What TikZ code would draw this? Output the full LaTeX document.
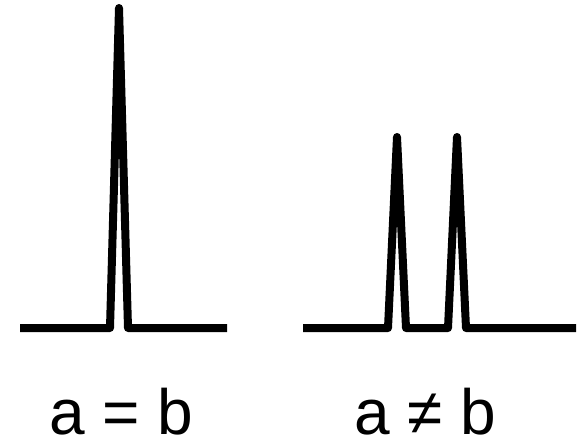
\documentclass[tikz,border=0pt]{standalone}
\usepackage{fontspec}
\setmainfont{Liberation Sans}
\begin{document}
\begin{tikzpicture}[x=1pt,y=-1pt,
  trace/.style={line width=8pt,line join=round,line cap=butt,black},
  lbl/.style={anchor=base,inner sep=0pt,text depth=0pt,font=\fontsize{64}{70}\selectfont}]
\useasboundingbox (0,0) rectangle (583,439);
% left trace
\coordinate (l0) at (20,328);
\coordinate (l1) at (110,328);
\coordinate (lp) at (119,8);
\coordinate (l2) at (128,328);
\coordinate (l3) at (227,328);
\draw[trace] (l0) -- (l1) -- (lp) -- (l2) -- (l3);
% right trace
\coordinate (r0) at (303,328);
\coordinate (r1) at (388,328);
\coordinate (rp1) at (397,137);
\coordinate (r2) at (406,328);
\coordinate (r3) at (448,328);
\coordinate (rp2) at (457,137);
\coordinate (r4) at (466,328);
\coordinate (r5) at (576,328);
\draw[trace] (r0) -- (r1) -- (rp1) -- (r2) -- (r3) -- (rp2) -- (r4) -- (r5);
% labels
\node[lbl] (eq) at (121.5,434) {a = b};
\node[lbl] (neq) at (425,434) {a ≠ b};
\end{tikzpicture}
\end{document}
